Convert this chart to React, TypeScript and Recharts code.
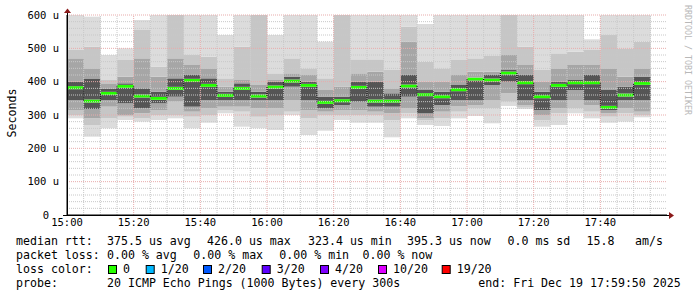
import React from 'react';
import { ComposedChart, Bar, XAxis, YAxis, ReferenceLine } from 'recharts';

// ---- data (values in microseconds) ----
const categories = [
  '15:00','15:05','15:10','15:15','15:20','15:25','15:30','15:35','15:40','15:45','15:50','15:55',
  '16:00','16:05','16:10','16:15','16:20','16:25','16:30','16:35','16:40','16:45','16:50','16:55',
  '17:00','17:05','17:10','17:15','17:20','17:25','17:30','17:35','17:40','17:45','17:50','17:55',
];
const medians = [382,342,365,386,357,350,380,404,389,359,380,357,384,402,389,338,343,383,342,342,387,361,355,376,408,405,426,397,355,389,397,397,323,360,395,null];
const mins    = [290,235,260,285,280,285,290,260,277,305,265,260,255,300,240,253,285,277,277,233,290,270,267,290,297,275,327,318,265,270,305,290,277,280,293,null];
const lo1     = [300,270,290,295,290,300,300,295,300,315,310,295,300,310,290,300,300,300,300,285,305,285,290,310,320,320,340,322,285,305,320,310,295,305,300,null];
const lo2     = [315,290,325,300,305,315,340,310,320,325,325,320,320,345,315,310,315,315,310,305,320,290,310,327,330,345,365,330,300,320,345,330,305,320,310,null];
const lo3     = [345,318,345,335,320,335,355,325,345,345,345,345,345,385,345,320,330,340,325,325,355,305,330,345,345,390,400,345,315,345,375,345,315,345,345,null];
const hi3     = [400,408,378,395,380,370,410,420,410,370,395,370,400,415,400,355,355,400,400,365,420,375,370,390,410,420,435,420,370,400,405,420,375,385,415,null];
const hi2     = [470,440,395,415,470,415,470,450,440,385,405,390,405,425,420,375,385,425,430,380,520,400,400,420,430,430,480,450,400,440,450,450,440,415,440,null];
const hi1     = [495,505,405,465,555,445,600,480,475,410,505,600,425,470,440,410,600,467,467,435,565,460,440,465,470,477,600,505,435,485,490,495,540,500,520,null];
const maxs    = [600,595,480,500,585,600,600,600,600,540,600,600,540,600,600,520,600,600,600,600,600,573,600,600,600,600,600,600,600,600,600,527,600,600,600,null];

const xTickMinutes = [0, 20, 40, 60, 80, 100, 120, 140, 160];
const xTickLabels = ['15:00','15:20','15:40','16:00','16:20','16:40','17:00','17:20','17:40'];
const yTicks = [0, 100, 200, 300, 400, 500, 600];
const COLUMN_MINUTES = 5;

// ---- styling ----
const FONT = '"DejaVu Sans Mono", monospace';
const MED_HALF = 4.5; // half thickness of median mark in axis units
const C0 = '#dcdcdc';
const C1 = '#c6c6c6';
const C2 = '#a6a6a6';
const C3 = '#555555';
const GREEN = '#26ff00';

const rows = categories.map((t, i) => {
  const x = i * COLUMN_MINUTES + COLUMN_MINUTES / 2; // column centre, minutes after 15:00
  const m = medians[i];
  if (m == null) return { t, x };
  const b = [mins[i], lo1[i], lo2[i], lo3[i], m - MED_HALF, m + MED_HALF, hi3[i], hi2[i], hi1[i], maxs[i]] as number[];
  for (let k = 1; k < b.length; k++) b[k] = Math.max(b[k], b[k - 1]);
  return {
    t,
    x,
    base: b[0],
    s1: b[1] - b[0],
    s2: b[2] - b[1],
    s3: b[3] - b[2],
    s4: b[4] - b[3],
    sm: b[5] - b[4],
    s6: b[6] - b[5],
    s7: b[7] - b[6],
    s8: b[8] - b[7],
    s9: b[9] - b[8],
  };
});

const segs: [string, string][] = [
  ['base', 'transparent'],
  ['s1', C0], ['s2', C1], ['s3', C2], ['s4', C3],
  ['sm', GREEN],
  ['s6', C3], ['s7', C2], ['s8', C1], ['s9', C0],
];

const minorH: number[] = [];
const majorH: number[] = [];
for (let v = 20; v <= 600; v += 20) (v % 100 === 0 ? majorH : minorH).push(v);
const minorV: number[] = [];
const majorV: number[] = [];
for (let m = 5; m < 180; m += 5) (m % 20 === 0 ? majorV : minorV).push(m);

function YTick(props: any) {
  const { x, y, payload } = props;
  const v = payload.value;
  return (
    <text x={v === 0 ? x - 10 : x} y={y} dy="0.355em" textAnchor="end" fontFamily={FONT} fontSize={10.5} fill="#000">
      {v === 0 ? '0' : `${v} u`}
    </text>
  );
}

function XTick(props: any) {
  const { x, y, payload } = props;
  const i = xTickMinutes.indexOf(payload.value);
  return (
    <text x={x} y={y} dy="0.71em" textAnchor="middle" fontFamily={FONT} fontSize={10.5} fill="#000">
      {i >= 0 ? xTickLabels[i] : ''}
    </text>
  );
}

const legendFont = { fontFamily: FONT, fontSize: 11.6, fill: '#000' } as const;

const line1: [string, number][] = [
  ['median rtt:', 16], ['375.5 us avg', 107], ['426.0 us max', 207], ['323.4 us min', 308],
  ['395.3 us now', 407], ['0.0 ms sd', 507.5], ['15.8', 586.5], ['am/s', 635],
];
const line2: [string, number][] = [
  ['packet loss:', 16], ['0.00 % avg', 107], ['0.00 % max', 193.3], ['0.00 % min', 279.3], ['0.00 % now', 362.5],
];
const lossItems: [string, string, number][] = [
  ['0', '#26ff00', 108], ['1/20', '#00b8ff', 145.7], ['2/20', '#0059ff', 203], ['3/20', '#5e00ff', 261.7],
  ['4/20', '#7e00ff', 320], ['10/20', '#dd00ff', 378], ['19/20', '#ff0000', 441.7],
];
const line4: [string, number][] = [
  ['probe:', 16], ['20 ICMP Echo Pings (1000 Bytes) every 300s', 107], ['end: Fri Dec 19 17:59:50 2025', 478.3],
];

export default function App() {
  return (
    <div style={{ position: 'absolute', left: 0, top: 0, width: 697, height: 297, background: '#fff' }}>
      <ComposedChart
        width={697}
        height={297}
        data={rows}
        margin={{ top: 15, right: 30, bottom: 62, left: 0 }}
        barCategoryGap={0}
        barGap={0}
      >
        <XAxis
          dataKey="x"
          type="number"
          domain={[0, 180]}
          allowDataOverflow
          ticks={xTickMinutes}
          interval={0}
          height={20}
          tickLine={false}
          tickSize={0}
          tickMargin={4}
          axisLine={{ stroke: '#000' }}
          tick={<XTick />}
        />
        <YAxis
          type="number"
          domain={[0, 600]}
          allowDataOverflow
          ticks={yTicks}
          interval={0}
          width={67}
          tickLine={false}
          tickSize={0}
          tickMargin={8}
          axisLine={{ stroke: '#000' }}
          tick={<YTick />}
        />
        {segs.map(([k, c]) => (
          <Bar key={k} dataKey={k} stackId="a" fill={c} stroke="none" isAnimationActive={false} />
        ))}
        {minorH.map((v) => (
          <ReferenceLine key={'mh' + v} y={v} stroke="#c8c8c8" strokeDasharray="1 1" />
        ))}
        {minorV.map((v) => (
          <ReferenceLine key={'mv' + v} x={v} stroke="#c8c8c8" strokeDasharray="1 1" />
        ))}
        {majorH.map((v) => (
          <ReferenceLine key={'Mh' + v} y={v} stroke="#e8abab" strokeDasharray="1 1" />
        ))}
        {majorV.map((v) => (
          <ReferenceLine key={'Mv' + v} x={v} stroke="#e8abab" strokeDasharray="1 1" />
        ))}
        {medians.slice(0, -1).map((m, i) => {
          const n = medians[i + 1];
          if (m == null || n == null) return null;
          const x = (i + 1) * COLUMN_MINUTES;
          return (
            <ReferenceLine
              key={'st' + i}
              segment={[{ x, y: m }, { x, y: n }]}
              stroke="#000"
              strokeDasharray="1 1"
            />
          );
        })}
      </ComposedChart>
      <svg
        width={697}
        height={297}
        style={{ position: 'absolute', left: 0, top: 0, pointerEvents: 'none' }}
      >
        <line x1={63} y1={215.5} x2={669} y2={215.5} stroke="#000" />
        <line x1={67.5} y1={13} x2={67.5} y2={216} stroke="#000" />
        <polygon points="64,13 71,13 67.5,8.5" fill="#8b1a1a" />
        <polygon points="669,212 669,219 674,215.5" fill="#8b1a1a" />
        <text transform="translate(16,113) rotate(-90)" textAnchor="middle" fontFamily={FONT} fontSize={11.6} fill="#000">
          Seconds
        </text>
        <text transform="translate(684.8,5) rotate(90)" fontFamily={FONT} fontSize={8.3} fill="#b8b8b8">
          RRDTOOL / TOBI OETIKER
        </text>
        {line1.map(([s, x]) => (
          <text key={s} x={x} y={245} {...legendFont}>{s}</text>
        ))}
        {line2.map(([s, x], i) => (
          <text key={i} x={x} y={259} {...legendFont}>{s}</text>
        ))}
        <text x={16} y={273.2} {...legendFont}>loss color:</text>
        {lossItems.map(([s, c, x]) => (
          <g key={s}>
            <rect x={x + 0.5} y={265.5} width={8} height={8} fill={c} stroke="#000" />
            <text x={x + 15} y={273.2} {...legendFont}>{s}</text>
          </g>
        ))}
        {line4.map(([s, x], i) => (
          <text key={i} x={x} y={287.3} {...legendFont}>{s}</text>
        ))}
      </svg>
    </div>
  );
}
